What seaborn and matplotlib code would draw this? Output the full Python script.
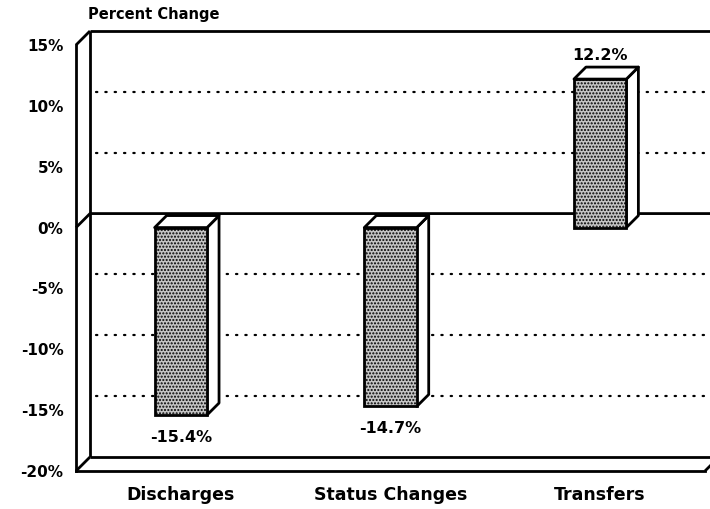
import matplotlib
matplotlib.use("Agg")
import matplotlib.pyplot as plt
from matplotlib.patches import Polygon
import numpy as np
import pandas as pd
import seaborn as sns

# Values
categories = ["Discharges", "Status Changes", "Transfers"]
pct_change = [-15.4, -14.7, 12.2]
value_labels = ["-15.4%", "-14.7%", "12.2%"]
y_ticks = [-20, -15, -10, -5, 0, 5, 10, 15]
y_tick_labels = ["-20%", "-15%", "-10%", "-5%", "0%", "5%", "10%", "15%"]
grid_levels = [10, 5, -5, -10, -15]

sns.set_style("white")
plt.rcParams["font.family"] = ["DejaVu Sans"]
plt.rcParams["font.weight"] = "bold"
plt.rcParams["text.color"] = "black"
plt.rcParams["hatch.linewidth"] = 1.0
plt.rcParams["hatch.color"] = "#222222"

df = pd.DataFrame({"category": categories, "change": pct_change})

W, H = 710, 509
fig = plt.figure(figsize=(W / 100, H / 100), dpi=100)
fig.patch.set_facecolor("white")
ax = fig.add_axes([76 / W, 38 / H, (705 - 76) / W, (471 - 45) / H])

sns.barplot(data=df, x="category", y="change", width=0.25, color="#c4c4c4",
            edgecolor="black", linewidth=2.0, saturation=1, ax=ax, zorder=5)
ax.set_xlim(-0.5, 2.5)
ax.set_ylim(-20, 15)


def px_offset(dxp, dyp):
    """Convert a pixel offset into data units for this axes."""
    inv = ax.transData.inverted()
    p0 = ax.transData.transform((0, 0))
    d = inv.transform(p0 + np.array([dxp, dyp]))
    return d[0], d[1]


# Back wall / floor of the box
WX, WY = px_offset(14, 14)
x_left, x_right = -0.5, 2.5
x_far = 3.2
line_kw = dict(color="black", lw=2, solid_capstyle="butt", clip_on=False, zorder=2)
ax.plot([x_left + WX, x_left + WX], [-20 + WY, 15 + WY], **line_kw)
ax.plot([x_left + WX, x_far], [15 + WY, 15 + WY], **line_kw)
ax.plot([x_left, x_left + WX], [15, 15 + WY], **line_kw)
ax.plot([x_left + WX, x_far], [-20 + WY, -20 + WY], **line_kw)
ax.plot([x_left, x_left + WX], [-20, -20 + WY], **line_kw)
ax.plot([x_right, x_right + WX], [-20, -20 + WY], **line_kw)
# zero plane
ax.plot([x_left, x_left + WX, x_far], [0, WY, WY], **line_kw)
# dotted gridlines on the back wall
for g in grid_levels:
    ax.plot([x_left + WX + 0.03, x_far], [g + WY, g + WY], color="black", lw=1.6,
            linestyle=(0, (0.6, 3.6)), dash_capstyle="round", clip_on=False, zorder=1)

# 3-D faces for each bar
BX, BY = px_offset(12, 12)
for patch in ax.patches:
    patch.set_hatch(".....")
    x0 = patch.get_x()
    x1 = x0 + patch.get_width()
    y0 = patch.get_y()
    y1 = y0 + patch.get_height()
    top, bot = max(y0, y1), min(y0, y1)
    side = Polygon([(x1, top), (x1 + BX, top + BY), (x1 + BX, bot + BY), (x1, bot)],
                   closed=True, facecolor="white", edgecolor="black", lw=2.0,
                   joinstyle="round", zorder=4)
    lid = Polygon([(x0, top), (x0 + BX, top + BY), (x1 + BX, top + BY), (x1, top)],
                  closed=True, facecolor="white", edgecolor="black", lw=2.0,
                  joinstyle="round", zorder=4)
    ax.add_patch(side)
    ax.add_patch(lid)

# value labels
for i, (v, lab) in enumerate(zip(pct_change, value_labels)):
    off = 17 if v > 0 else -16
    ax.annotate(lab, xy=(i, v), xytext=(0, off), textcoords="offset points",
                ha="center", va="center", fontsize=11.5, fontweight="bold",
                color="black", zorder=6)

# axes styling
ax.set_yticks(y_ticks)
ax.set_yticklabels(y_tick_labels, fontsize=11, fontweight="bold")
ax.set_xticks(range(len(categories)))
ax.set_xticklabels(categories, fontsize=12.5, fontweight="bold")
ax.set_xlabel("")
ax.set_ylabel("")
for s in ["top", "right"]:
    ax.spines[s].set_visible(False)
for s in ["left", "bottom"]:
    ax.spines[s].set_linewidth(2)
    ax.spines[s].set_color("black")
    ax.spines[s].set_zorder(3)
ax.tick_params(axis="y", direction="out", length=5, width=1.6, pad=4, colors="black")
ax.tick_params(axis="x", direction="out", length=5, width=1.6, pad=6, colors="black")
ax.set_facecolor("none")
ax.grid(False)

fig.text(88 / W, 1 - 14 / H, "Percent Change", fontsize=10.5, fontweight="bold",
         ha="left", va="center", color="black")

fig.savefig("out.png", dpi=100, facecolor="white")
